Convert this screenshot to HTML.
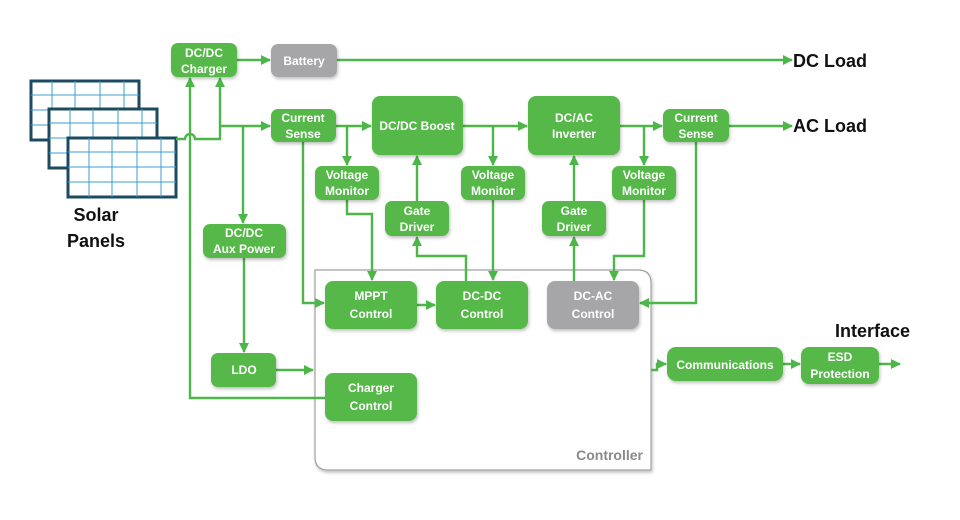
<!DOCTYPE html>
<html><head><meta charset="utf-8"><style>
html,body{margin:0;padding:0;background:#fff;}
svg{display:block;}
.b{fill:#55b84a;}
.g{fill:#a6a6a8;}
.t{font-family:"Liberation Sans",sans-serif;font-weight:bold;font-size:12px;fill:#fff;text-anchor:middle;}
.l{stroke:#4cb748;stroke-width:2.4;fill:none;}
.big{font-family:"Liberation Sans",sans-serif;font-weight:bold;font-size:18px;fill:#111;}
</style></head><body>
<svg width="960" height="520" viewBox="0 0 960 520" xmlns="http://www.w3.org/2000/svg">
<defs>
<marker id="a" viewBox="0 0 10 10" refX="9" refY="5" markerWidth="10" markerHeight="10" orient="auto" markerUnits="userSpaceOnUse"><path d="M0,0L10,5L0,10z" fill="#4cb748"/></marker>
<filter id="s" x="-10%" y="-10%" width="130%" height="140%"><feDropShadow dx="1" dy="2" stdDeviation="1.5" flood-color="#000" flood-opacity="0.25"/></filter>
<g id="pan">
<rect x="0" y="0" width="108" height="59" fill="#fff" stroke="#1c4a5e" stroke-width="3"/>
<g stroke="#3e9fd0" stroke-width="1">
<line x1="21" y1="0" x2="21" y2="59"/><line x1="44" y1="0" x2="44" y2="59"/><line x1="69" y1="0" x2="69" y2="59"/><line x1="93" y1="0" x2="93" y2="59"/>
<line x1="0" y1="14" x2="108" y2="14"/><line x1="0" y1="29" x2="108" y2="29"/><line x1="0" y1="44" x2="108" y2="44"/>
</g></g>
</defs>

<use href="#pan" x="31" y="81"/>
<use href="#pan" x="49" y="109"/>
<use href="#pan" x="68" y="138"/>
<text class="big" x="96" y="221" text-anchor="middle">Solar</text>
<text class="big" x="96" y="247" text-anchor="middle">Panels</text>

<path d="M315,270 H638 Q651,270 651,283 V470 H328 Q315,470 315,457 Z" fill="#fff" stroke="#a0a0a0" stroke-width="1.2" filter="url(#s)"/>
<text x="643" y="460" text-anchor="end" style="font-family:'Liberation Sans',sans-serif;font-weight:bold;font-size:14px;fill:#8a8a8a">Controller</text>

<path class="l" d="M176,139 H185 A5,5 0 0 1 195,139 H220 V78" marker-end="url(#a)"/>
<path class="l" d="M220,126 H270" marker-end="url(#a)"/>
<path class="l" d="M325,398 H190 V78" marker-end="url(#a)"/>
<path class="l" d="M243,126 V223" marker-end="url(#a)"/>
<path class="l" d="M244,258 V352" marker-end="url(#a)"/>
<path class="l" d="M276,370 H313" marker-end="url(#a)"/>
<path class="l" d="M237,60 H270" marker-end="url(#a)"/>
<path class="l" d="M337,60 H792" marker-end="url(#a)"/>
<path class="l" d="M336,126 H371" marker-end="url(#a)"/>
<path class="l" d="M347,126 V165" marker-end="url(#a)"/>
<path class="l" d="M303,142 V303 H324" marker-end="url(#a)"/>
<path class="l" d="M347,200 V214 H372 V280" marker-end="url(#a)"/>
<path class="l" d="M417,201 V156" marker-end="url(#a)"/>
<path class="l" d="M466,281 V256 H417 V237" marker-end="url(#a)"/>
<path class="l" d="M493,200 V280" marker-end="url(#a)"/>
<path class="l" d="M463,126 H527" marker-end="url(#a)"/>
<path class="l" d="M493,126 V165" marker-end="url(#a)"/>
<path class="l" d="M417,305 H435" marker-end="url(#a)"/>
<path class="l" d="M574,281 V237" marker-end="url(#a)"/>
<path class="l" d="M574,201 V156" marker-end="url(#a)"/>
<path class="l" d="M620,126 H662" marker-end="url(#a)"/>
<path class="l" d="M644,126 V165" marker-end="url(#a)"/>
<path class="l" d="M644,200 V256 H614 V280" marker-end="url(#a)"/>
<path class="l" d="M696,142 V303 H640" marker-end="url(#a)"/>
<path class="l" d="M729,126 H792" marker-end="url(#a)"/>
<path class="l" d="M651,370 H657 V364 H666" marker-end="url(#a)"/>
<path class="l" d="M783,364 H800" marker-end="url(#a)"/>
<path class="l" d="M879,364 H900" marker-end="url(#a)"/>

<g filter="url(#s)">
<rect class="b" x="171" y="43" width="66" height="34" rx="7"/>
<rect class="g" x="271" y="44" width="66" height="33" rx="7"/>
<rect class="b" x="271" y="109" width="65" height="33" rx="7"/>
<rect class="b" x="372" y="96" width="91" height="59" rx="8"/>
<rect class="b" x="528" y="96" width="92" height="59" rx="8"/>
<rect class="b" x="663" y="109" width="66" height="33" rx="7"/>
<rect class="b" x="315" y="166" width="64" height="34" rx="7"/>
<rect class="b" x="385" y="201" width="64" height="35" rx="7"/>
<rect class="b" x="461" y="166" width="64" height="34" rx="7"/>
<rect class="b" x="542" y="201" width="64" height="35" rx="7"/>
<rect class="b" x="612" y="166" width="64" height="34" rx="7"/>
<rect class="b" x="203" y="224" width="83" height="34" rx="7"/>
<rect class="b" x="325" y="281" width="92" height="48" rx="8"/>
<rect class="b" x="436" y="281" width="92" height="48" rx="8"/>
<rect class="g" x="547" y="281" width="92" height="48" rx="8"/>
<rect class="b" x="211" y="353" width="65" height="34" rx="7"/>
<rect class="b" x="325" y="373" width="92" height="48" rx="8"/>
<rect class="b" x="667" y="347" width="116" height="34" rx="9"/>
<rect class="b" x="801" y="347" width="78" height="37" rx="8"/>
</g>

<text class="t" x="204" y="57">DC/DC</text><text class="t" x="204" y="73">Charger</text>
<text class="t" x="304" y="65">Battery</text>
<text class="t" x="303" y="122">Current</text><text class="t" x="303" y="138">Sense</text>
<text class="t" x="417" y="130">DC/DC Boost</text>
<text class="t" x="574" y="122">DC/AC</text><text class="t" x="574" y="138">Inverter</text>
<text class="t" x="696" y="122">Current</text><text class="t" x="696" y="138">Sense</text>
<text class="t" x="347" y="179">Voltage</text><text class="t" x="347" y="195">Monitor</text>
<text class="t" x="417" y="215">Gate</text><text class="t" x="417" y="231">Driver</text>
<text class="t" x="493" y="179">Voltage</text><text class="t" x="493" y="195">Monitor</text>
<text class="t" x="574" y="215">Gate</text><text class="t" x="574" y="231">Driver</text>
<text class="t" x="644" y="179">Voltage</text><text class="t" x="644" y="195">Monitor</text>
<text class="t" x="244" y="237">DC/DC</text><text class="t" x="244" y="253">Aux Power</text>
<text class="t" x="371" y="300">MPPT</text><text class="t" x="371" y="318">Control</text>
<text class="t" x="482" y="300">DC-DC</text><text class="t" x="482" y="318">Control</text>
<text class="t" x="593" y="300">DC-AC</text><text class="t" x="593" y="318">Control</text>
<text class="t" x="244" y="374">LDO</text>
<text class="t" x="371" y="392">Charger</text><text class="t" x="371" y="410">Control</text>
<text class="t" x="725" y="369">Communications</text>
<text class="t" x="840" y="361">ESD</text><text class="t" x="840" y="378">Protection</text>

<text class="big" x="793" y="67">DC Load</text>
<text class="big" x="793" y="132">AC Load</text>
<text class="big" x="835" y="337">Interface</text>
</svg>
</body></html>
